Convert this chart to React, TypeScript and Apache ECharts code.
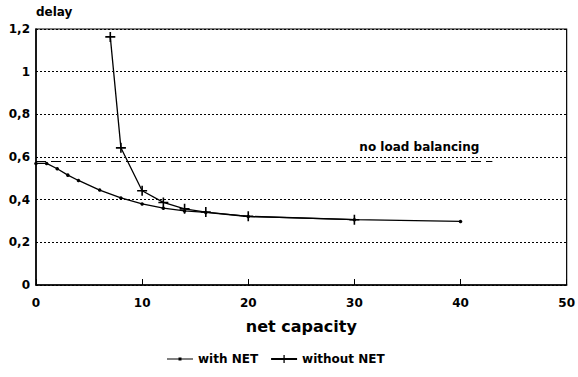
import React, { useEffect, useRef } from "react";
import * as echarts from "echarts";

const withNetX = [0, 1, 2, 3, 4, 6, 8, 10, 12, 14, 16, 20, 30, 40];
const withNetY = [0.57, 0.57, 0.545, 0.515, 0.49, 0.445, 0.408, 0.38, 0.36, 0.347, 0.34, 0.321, 0.306, 0.298];
const withoutNetX = [7, 8, 10, 12, 14, 16, 20, 30];
const withoutNetY = [1.163, 0.643, 0.442, 0.387, 0.357, 0.342, 0.322, 0.306];
const noLoadValue = 0.578;
const noLoadRange = [0, 43];
const noLoadLabel = "no load balancing";
const xTicks = [0, 10, 20, 30, 40, 50];
const yTicks = [0, 0.2, 0.4, 0.6, 0.8, 1, 1.2];

const FONT = "DejaVu Sans, Liberation Sans, sans-serif";
const PLUS = "path://M0,4.2H4.2V0H5.8V4.2H10V5.8H5.8V10H4.2V5.8H0Z";
const DOT_ICON = "path://M0,1.4H26V2.6H0Z M11.5,0.5H14.5V3.5H11.5Z";

export default function App() {
  const ref = useRef<HTMLDivElement>(null);
  useEffect(() => {
    const chart = echarts.init(ref.current!, null, { renderer: "svg" });
    chart.setOption({
      animation: false,
      backgroundColor: "#fff",
      textStyle: { fontFamily: FONT },
      grid: {
        left: 36,
        right: 11,
        top: 29,
        bottom: 92,
        show: true,
        borderColor: "#000",
        borderWidth: 1.2,
      },
      graphic: [
        {
          type: "text",
          left: 36,
          top: 6,
          style: { text: "delay", font: `bold 12px ${FONT}`, fill: "#000" },
        },
      ],
      xAxis: {
        type: "value",
        min: xTicks[0],
        max: xTicks[xTicks.length - 1],
        interval: 10,
        name: "net capacity",
        nameLocation: "middle",
        nameGap: 33,
        nameTextStyle: { fontSize: 16, fontWeight: "bold", color: "#000", fontFamily: FONT },
        axisLine: { lineStyle: { color: "#000", width: 1.5 } },
        axisTick: { inside: true, length: 6, lineStyle: { color: "#000" } },
        axisLabel: { color: "#000", fontSize: 12, fontWeight: "bold", margin: 12, fontFamily: FONT },
        splitLine: { show: false },
      },
      yAxis: {
        type: "value",
        min: yTicks[0],
        max: yTicks[yTicks.length - 1],
        interval: 0.2,
        axisLine: { show: true, lineStyle: { color: "#000", width: 1.5 } },
        axisTick: { show: false },
        axisLabel: {
          color: "#000",
          fontSize: 12,
          fontWeight: "bold",
          margin: 6,
          fontFamily: FONT,
          formatter: (v: number) => String(Math.round(v * 10) / 10).replace(".", ","),
        },
        splitLine: { show: true, lineStyle: { color: "#000", type: [2, 2], width: 1 } },
      },
      legend: {
        data: [
          { name: "with NET", icon: DOT_ICON },
          { name: "without NET" },
        ],
        symbolKeepAspect: true,
        bottom: 7,
        left: 162,
        itemWidth: 26,
        itemHeight: 10,
        itemGap: 12,
        textStyle: { fontSize: 12, fontWeight: "bold", color: "#000", fontFamily: FONT },
      },
      series: [
        {
          name: "with NET",
          type: "line",
          data: withNetX.map((x, i) => [x, withNetY[i]]),
          symbol: "circle",
          symbolSize: 3.5,
          lineStyle: { color: "#000", width: 1.3 },
          itemStyle: { color: "#000" },
          markLine: {
            silent: true,
            symbol: ["none", "none"],
            lineStyle: { color: "#000", type: [10, 5], width: 1.2 },
            label: {
              show: true,
              position: "insideEndTop",
              formatter: noLoadLabel,
              color: "#000",
              fontSize: 12,
              fontWeight: "bold",
              fontFamily: FONT,
              distance: [13, 9],
            },
            data: [
              [
                { coord: [noLoadRange[0], noLoadValue] },
                { coord: [noLoadRange[1], noLoadValue] },
              ],
            ],
          },
        },
        {
          name: "without NET",
          type: "line",
          data: withoutNetX.map((x, i) => [x, withoutNetY[i]]),
          symbol: PLUS,
          symbolSize: 10,
          lineStyle: { color: "#000", width: 1.3 },
          itemStyle: { color: "#000" },
        },
      ],
    });
    return () => chart.dispose();
  }, []);
  return <div ref={ref} style={{ width: 578, height: 377, position: "absolute", left: 0, top: 0 }} />;
}
